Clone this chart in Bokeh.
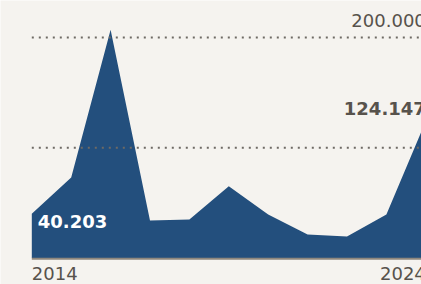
from bokeh.plotting import figure
from bokeh.models import Range1d, ColumnDataSource
from bokeh.core.properties import value
from bokeh.embed import file_html
from bokeh.resources import INLINE

years = [2014, 2015, 2016, 2017, 2018, 2019, 2020, 2021, 2022, 2023, 2024]
values = [40203, 73000, 207000, 34000, 35000, 65000, 39500, 21300, 19500, 39500, 124147]
grid_values = [100000, 200000]
first_label = "40.203"
last_label = "124.147"
top_label = "200.000"
year_labels = ["2014", "2024"]

BG = "#f5f3ef"
FILL = "#234f7d"
GRAY = "#57524c"
FONT = value("DejaVu Sans")

p = figure(width=421, height=284, output_backend="svg", toolbar_location=None,
           x_range=Range1d(2013.2056, 2023.891), y_range=Range1d(-24030, 233450),
           min_border=0)
p.axis.visible = False
p.grid.visible = False
p.outline_line_color = None
p.background_fill_color = BG
p.border_fill_color = BG

src = ColumnDataSource(dict(x=years, y=values))
p.varea(x="x", y1=0, y2="y", source=src, fill_color=FILL)

for g in grid_values:
    p.line([years[0], years[-1] + 1], [g, g], line_color="#6e6a64", line_width=2,
           line_dash="2 5")

p.line([years[0], years[-1] + 1], [-600, -600], line_color="#8e877d", line_width=2)

p.text(x=[years[0]], y=[0], text=[year_labels[0]], text_font=FONT,
       text_font_size="18px", text_color=GRAY, text_align="left",
       text_baseline="alphabetic", y_offset=16, x_offset=0)
p.text(x=[years[-1]], y=[0], text=[year_labels[1]], text_font=FONT,
       text_font_size="18px", text_color=GRAY, text_align="right",
       text_baseline="alphabetic", y_offset=16)
p.text(x=[years[0]], y=[0], text=[first_label], text_font=FONT,
       text_font_size="18px", text_font_style="bold", text_color="#ffffff",
       text_align="left", text_baseline="alphabetic", x_offset=6, y_offset=-36)
p.text(x=[years[-1]], y=[values[-1]], text=[last_label], text_font=FONT,
       text_font_size="18px", text_font_style="bold", text_color=GRAY,
       text_align="right", text_baseline="alphabetic", y_offset=-13)
p.text(x=[years[-1]], y=[grid_values[1]], text=[top_label], text_font=FONT,
       text_font_size="18px", text_color=GRAY,
       text_align="right", text_baseline="alphabetic", y_offset=-17)

open("out.html", "w").write(file_html(p, INLINE))
